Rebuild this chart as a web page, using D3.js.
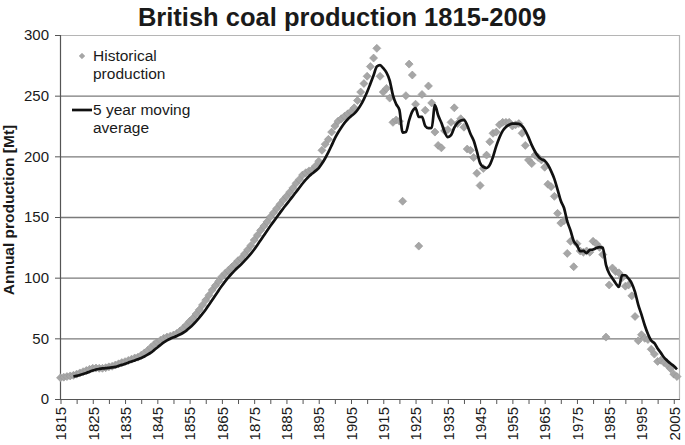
<!DOCTYPE html>
<html>
<head>
<meta charset="utf-8">
<script src="https://cdn.jsdelivr.net/npm/d3@7"></script>
<style>
  html, body { margin: 0; padding: 0; background: #fff; }
  svg text { font-family: "Liberation Sans", Arial, sans-serif; fill: #1a1a1a; }
</style>
</head>
<body>
<div id="chart"></div>
<script>
// British coal production, Mt, one value per year from 1815
const firstYear = 1815;
const production = [
  17.5, 18, 18.5, 19, 19.5, 20.5, 21.5, 22.5, 23.5, 24.5,
  25.3, 25.5, 25.3, 25.3, 25.8, 26.5, 27, 28, 29, 30,
  30.8, 31.8, 32.8, 33.8, 34.5, 36, 38, 40, 42.5, 45,
  47, 48.5, 50, 51, 51.8, 52.7, 54, 56, 58.3, 61,
  64, 66.5, 70, 73.5, 77.5, 81.5, 85.5, 89.8, 93.5, 97,
  100.8, 103.5, 106, 108.5, 111, 114, 116, 119.5, 123, 126.5,
  131, 135, 139, 142.5, 146, 150, 153.5, 157, 160.5, 164,
  167, 170.5, 174, 177.8, 181, 184.6, 186.5, 188, 189, 192,
  196, 205, 210, 214, 220, 225, 229, 231, 233, 235,
  237, 240, 246, 253, 260, 266, 274, 281, 289, 266,
  253, 256, 248, 228, 230, 229, 163, 250, 276, 267,
  243, 126, 251, 238, 258, 244, 220, 209, 207, 221,
  222, 228, 240, 227, 231, 224, 206, 205, 199, 186,
  176, 190, 201, 212, 219, 220, 226, 228, 228, 228,
  225, 226, 227, 219, 209, 197, 194, 201, 199, 197,
  191, 177, 175, 167, 153, 145, 147, 120, 130, 109,
  128, 122, 121, 122, 121, 130, 128, 125, 119, 51,
  94, 108, 105, 104, 100, 93, 94, 85, 68, 48,
  53, 50, 49, 41, 37, 31, 32, 30, 28, 25,
  20.5, 18.5
];

// 5 year moving average line, starts in 1819
const avgFirstYear = 1819;
const movingAverage = [
  18.5, 19.1, 19.8, 20.6, 21.5, 22.5, 23.5, 24.3, 24.8, 25.2,
  25.4, 25.7, 26.0, 26.5, 27.3, 28.1, 29.0, 29.9, 30.9, 31.8,
  32.7, 33.8, 35.0, 36.5, 38.2, 40.3, 42.5, 44.6, 46.6, 48.3,
  49.7, 50.8, 51.9, 53.1, 54.6, 56.4, 58.7, 61.2, 64.0, 67.0,
  70.3, 73.8, 77.6, 81.6, 85.6, 89.5, 93.3, 96.9, 100.2, 103.2,
  106.0, 108.6, 111.1, 113.8, 116.7, 119.8, 123.2, 127.0, 130.9, 134.8,
  138.7, 142.5, 146.2, 149.8, 153.4, 157.0, 160.4, 163.8, 167.2, 170.7,
  174.1, 177.6, 180.8, 183.6, 185.8, 188.0, 190.3, 194.0, 198.4, 203.4,
  209.0, 214.8, 219.6, 223.8, 227.6, 230.6, 233.0, 235.2, 238.2, 242.2,
  247.2, 253.0, 259.8, 266.8, 274.0, 275.2, 272.6, 269.0, 262.4, 250.2,
  243.0, 238.2, 219.6, 220.0, 229.6, 237.0, 239.8, 232.4, 232.6, 225.0,
  223.2, 223.4, 242.2, 233.8, 227.6, 220.2, 215.8, 217.4, 223.6, 227.6,
  229.6, 230.0, 225.6, 218.6, 213.0, 204.0, 194.4, 191.2, 190.4, 193.0,
  199.6, 208.4, 215.6, 221.0, 224.2, 226.0, 227.0, 227.0, 226.8, 225.0,
  221.2, 215.6, 209.2, 204.0, 200.0, 197.6, 196.4, 193.0, 187.8, 181.4,
  172.6, 163.4, 157.4, 146.4, 139.0, 130.2, 126.8, 121.8, 122.0, 120.4,
  122.8, 123.2, 124.4, 125.2, 124.6, 110.6, 103.4, 99.4, 95.4, 92.4,
  102.2, 102.0, 99.2, 95.2, 88.0, 77.6, 69.6, 60.8, 53.6, 48.2,
  46.0, 41.6, 38.0, 34.2, 31.6, 29.2, 27.1, 24.4
];

const yTicks = [0, 50, 100, 150, 200, 250, 300];
const xTickYears = d3.range(1815, 2006, 5);
const xLabelYears = d3.range(1815, 2006, 10);
const legendLabels = [['Historical', 'production'], ['5 year moving', 'average']];

const width = 685;
const height = 445;
const plot = { left: 60, right: 680, top: 35, bottom: 399 };
const font = '"Liberation Sans", Arial, sans-serif';

const histData = production.map((v, i) => ({ year: firstYear + i, value: v }));
const avgData = movingAverage.map((v, i) => ({ year: avgFirstYear + i, value: v }));

const svg = d3.select('#chart').append('svg')
  .attr('width', width)
  .attr('height', height)
  .style('background', '#fff');

const xScale = d3.scaleLinear().domain([1815, 2006]).range([60.5, 677]);
const yScale = d3.scaleLinear().domain([0, 300]).range([plot.bottom, plot.top]);

// title
svg.append('text')
  .attr('x', 342)
  .attr('y', 26)
  .attr('text-anchor', 'middle')
  .style('font-size', '25.5px')
  .style('font-weight', 'bold')
  .text('British coal production 1815-2009');

// gridlines
svg.append('g')
  .selectAll('line')
  .data(yTicks.filter(d => d > 0 && d < 300))
  .enter()
  .append('line')
  .attr('x1', plot.left)
  .attr('x2', plot.right)
  .attr('y1', d => yScale(d) + 0.5)
  .attr('y2', d => yScale(d) + 0.5)
  .attr('stroke', '#7a7a7a')
  .attr('stroke-width', 1.3);

// plot frame top + right
svg.append('path')
  .attr('d', `M${plot.left},${plot.top + 0.5}H${plot.right - 0.5}V${plot.bottom}`)
  .attr('fill', 'none')
  .attr('stroke', '#b5b5b5')
  .attr('stroke-width', 1.2);

// y axis
const yAxis = svg.append('g')
  .attr('transform', `translate(${plot.left},0)`)
  .call(d3.axisLeft(yScale).tickValues(yTicks).tickSize(5).tickPadding(6).tickFormat(d3.format('d')));
yAxis.select('.domain').attr('stroke', '#555').attr('stroke-width', 1.2);
yAxis.selectAll('.tick line').attr('stroke', '#555');
yAxis.selectAll('.tick text')
  .style('font-size', '15px')
  .style('font-family', font)
  .attr('fill', '#1a1a1a');

// x axis
const xAxis = svg.append('g')
  .attr('transform', `translate(0,${plot.bottom})`)
  .call(d3.axisBottom(xScale).tickValues(xTickYears).tickSize(5)
    .tickFormat(d => (xLabelYears.includes(d) ? String(d) : '')));
xAxis.select('.domain').attr('d', `M${plot.left},0.5H${plot.right}`).attr('stroke', '#555').attr('stroke-width', 1.2);
xAxis.selectAll('.tick line').attr('stroke', '#555');
xAxis.selectAll('.tick text')
  .style('font-size', '15px')
  .style('font-family', font)
  .attr('fill', '#1a1a1a')
  .attr('text-anchor', 'end')
  .attr('transform', 'rotate(-90)')
  .attr('x', -8)
  .attr('y', 0)
  .attr('dy', '0.35em');

// y axis title
svg.append('text')
  .attr('transform', 'translate(14,210) rotate(-90)')
  .attr('text-anchor', 'middle')
  .style('font-size', '15.5px')
  .style('font-weight', 'bold')
  .text('Annual production [Mt]');

// historical points
const diamond = d3.symbol().type(d3.symbolSquare).size(32);
svg.append('g')
  .selectAll('path')
  .data(histData)
  .enter()
  .append('path')
  .attr('d', diamond)
  .attr('transform', d => `translate(${xScale(d.year)},${yScale(d.value)}) rotate(45)`)
  .attr('fill', '#a6a6a6')
  .attr('stroke', '#969696')
  .attr('stroke-width', 0.6);

// moving average
const lineGenerator = d3.line()
  .x(d => xScale(d.year))
  .y(d => yScale(d.value))
  .curve(d3.curveMonotoneX);

svg.append('path')
  .attr('d', lineGenerator(avgData))
  .attr('fill', 'none')
  .attr('stroke', '#111')
  .attr('stroke-width', 2.7)
  .attr('stroke-linejoin', 'round');

// legend
const legend = svg.append('g');
legend.append('path')
  .attr('d', d3.symbol().type(d3.symbolSquare).size(16))
  .attr('transform', 'translate(82,56) rotate(45)')
  .attr('fill', '#a6a6a6')
  .attr('stroke', '#969696')
  .attr('stroke-width', 0.5);
legend.append('line')
  .attr('x1', 72).attr('x2', 92)
  .attr('y1', 110).attr('y2', 110)
  .attr('stroke', '#111')
  .attr('stroke-width', 2.7);

const legendY = [56, 110];
legendLabels.forEach((lines, i) => {
  const t = legend.append('text')
    .attr('x', 93)
    .attr('y', legendY[i])
    .style('font-size', '15.5px');
  lines.forEach((s, j) => {
    t.append('tspan').attr('x', 93).attr('dy', j === 0 ? '0.35em' : '18').text(s);
  });
});
</script>
</body>
</html>
